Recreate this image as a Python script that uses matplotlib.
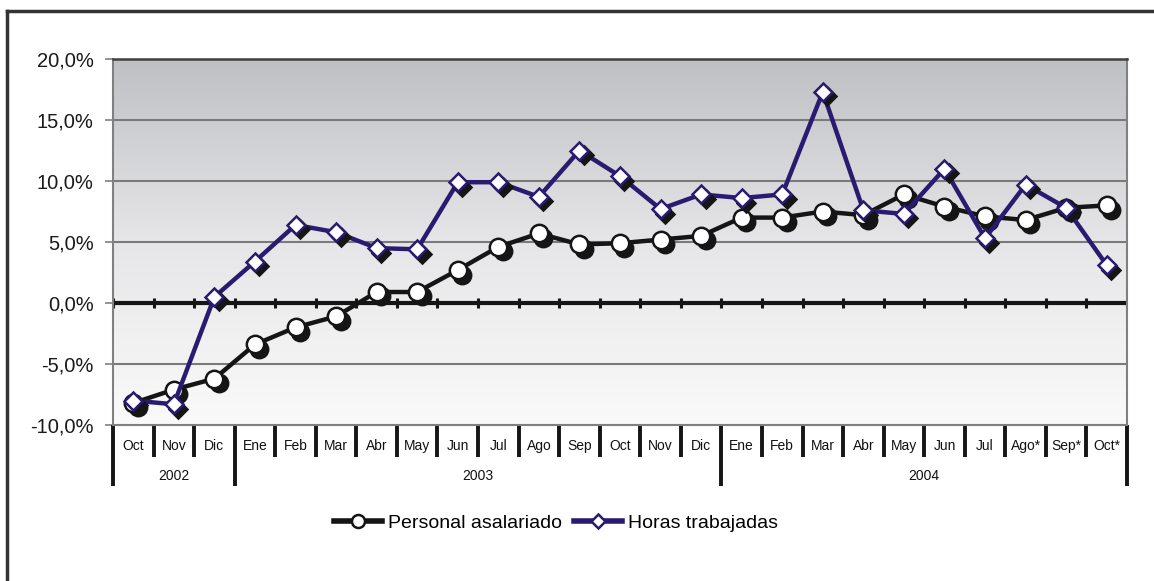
import numpy as np
import matplotlib
matplotlib.use("Agg")
from matplotlib import pyplot as plt
from matplotlib import transforms
from matplotlib.colors import LinearSegmentedColormap
from matplotlib.lines import Line2D

plt.rcParams['font.family'] = ['Liberation Sans', 'DejaVu Sans']

months = ['Oct', 'Nov', 'Dic', 'Ene', 'Feb', 'Mar', 'Abr', 'May', 'Jun', 'Jul', 'Ago', 'Sep',
          'Oct', 'Nov', 'Dic', 'Ene', 'Feb', 'Mar', 'Abr', 'May', 'Jun', 'Jul', 'Ago*', 'Sep*', 'Oct*']
years = ['2002', '2003', '2004']
year_start = [0, 3, 15]
year_end = [3, 15, 25]

personal = [-8.2, -7.1, -6.2, -3.4, -2.0, -1.1, 0.9, 0.9, 2.7, 4.6, 5.7, 4.8, 4.9,
            5.2, 5.5, 7.0, 7.0, 7.5, 7.2, 8.9, 7.9, 7.1, 6.8, 7.8, 8.0]
horas = [-8.0, -8.3, 0.5, 3.4, 6.4, 5.8, 4.5, 4.4, 9.9, 9.9, 8.7, 12.5, 10.4,
         7.7, 8.9, 8.6, 8.9, 17.3, 7.6, 7.3, 11.0, 5.3, 9.7, 7.8, 3.1]
yticks = [-10, -5, 0, 5, 10, 15, 20]

black = '#151515'
navy = '#2b1b70'

W, H = 1154, 581
fig = plt.figure(figsize=(W / 100, H / 100), dpi=100)
ax = fig.add_axes([113 / W, 1 - 425 / H, (1127 - 113) / W, (425 - 59) / H])

x = np.arange(len(months))
ax.set_xlim(-0.5, len(months) - 0.5)
ax.set_ylim(-10, 20)

# gradient background
cmap = LinearSegmentedColormap.from_list('bg', ['#fafafa', '#e6e6e8', '#bfc0c4'])
grad = np.linspace(0, 1, 256).reshape(-1, 1)
ax.imshow(grad, cmap=cmap, aspect='auto', origin='lower', extent=[0, 1, 0, 1],
          transform=ax.transAxes, zorder=0)

for v in [-5, 5, 10, 15]:
    ax.axhline(v, color='#7a7a7a', lw=1.5, zorder=1)

# zero line with ticks at category boundaries
ax.axhline(0, color=black, lw=3, zorder=2)
for b in np.arange(-0.5, len(months), 1.0):
    ax.plot([b, b], [-0.45, 0.45], color=black, lw=2.2, zorder=2, solid_capstyle='butt')

for s in ['left', 'right', 'bottom']:
    ax.spines[s].set_color('#808080')
    ax.spines[s].set_linewidth(1.5)
ax.spines['top'].set_color('#404040')
ax.spines['top'].set_linewidth(1.8)

ax.set_yticks(yticks)
ax.set_yticklabels(['%.1f%%' % v for v in yticks])
ax.yaxis.set_major_formatter(plt.FuncFormatter(lambda v, p: ('%.1f%%' % v).replace('.', ',')))
ax.tick_params(axis='y', length=6, width=1.2, color='#808080', labelsize=14.5,
               labelcolor='#1a1a1a', pad=8)
ax.set_xticks([])


def series(vals, color, marker, ms, z, label):
    ax.plot(x, vals, color=color, lw=3.2, zorder=z, solid_joinstyle='round')
    shadow = transforms.offset_copy(ax.transData, fig=fig, x=3.2, y=-3.2, units='points')
    ax.plot(x, vals, ls='none', marker=marker, ms=ms, mfc=black, mec=black,
            mew=1.8, transform=shadow, zorder=z + 0.1)
    ax.plot(x, vals, ls='none', marker=marker, ms=ms, mfc='white', mec=color,
            mew=1.8, zorder=z + 0.2)
    return Line2D([], [], color=color, lw=4, marker=marker, ms=ms * 0.75,
                  mfc='white', mec=color, mew=1.8, label=label)


h1 = series(personal, black, 'o', 12.5, 3, 'Personal asalariado')
h2 = series(horas, navy, 'D', 9.5, 4, 'Horas trabajadas')

# category axis: months and years
xt = ax.get_xaxis_transform()
px = 1.0 / (425 - 59)
for i, m in enumerate(months):
    ax.text(i, -21 * px, m, transform=xt, ha='center', va='center',
            fontsize=10, color='#111111')
for b in range(len(months) + 1):
    major = b in year_start or b == len(months)
    ax.plot([b - 0.5, b - 0.5], [0, -(61 if major else 32) * px], transform=xt,
            color=black, lw=2.8, clip_on=False, solid_capstyle='butt')
for name, s, e in zip(years, year_start, year_end):
    ax.text((s + e - 1) / 2, -51 * px, name, transform=xt, ha='center', va='center',
            fontsize=10, color='#111111')

fig.legend(handles=[h1, h2], loc='center', bbox_to_anchor=(556 / W, 1 - 523 / H),
           ncol=2, frameon=False, fontsize=14, handlelength=2.5, handletextpad=0.3,
           columnspacing=0.6)

# outer frame (left and top edges)
fig.add_artist(Line2D([7 / W, 7 / W], [-0.1, 1 - 10.5 / H], transform=fig.transFigure,
                      color='#333333', lw=2.5))
fig.add_artist(Line2D([7 / W, 1.1], [1 - 10.5 / H, 1 - 10.5 / H], transform=fig.transFigure,
                      color='#333333', lw=2.5))

fig.savefig('out.png', dpi=100)
